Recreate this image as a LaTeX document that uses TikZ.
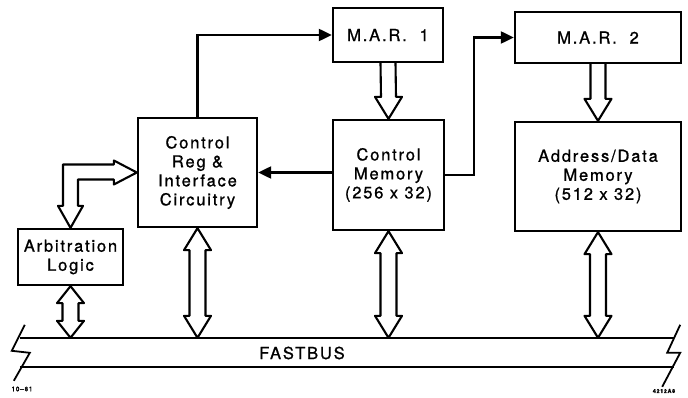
\documentclass[tikz,border=0pt]{standalone}
\usepackage{fontspec}
\setmainfont{TeX Gyre Heros}[LetterSpace=11, FakeBold=1]
\usetikzlibrary{arrows.meta,calc}

\tikzset{
  blk/.style={draw, line width=2.3pt, align=center, inner sep=0pt,
              font=\fontsize{16.5}{19}\selectfont},
  hollow/.style={draw, fill=white, line width=2.1pt, line join=round},
  wire/.style={line width=2.1pt, -{Triangle[length=13pt,width=12pt]}}
}

% single hollow arrow, tip at #2
\newcommand{\fatarrow}[2]{%
  \draw[hollow] ($(#1)+(-7.5,0)$) -- ($(#2)+(-7.5,-22)$) -- ++(-6,0) -- (#2)
    -- ++(13.5,-22) -- ++(-6,0) -- ($(#1)+(7.5,0)$);}
% double hollow arrow, tips at #1 and #2, head length #3
\newcommand{\dblarrow}[3]{%
  \draw[hollow] (#1) -- ++(13.5,#3) -- ++(-5.5,0) -- ($(#2)+(8,-#3)$) -- ++(5.5,0)
    -- (#2) -- ++(-13.5,-#3) -- ++(5.5,0) -- ($(#1)+(-8,#3)$) -- ++(-5.5,0) -- cycle;}

\begin{document}
\begin{tikzpicture}[x=1pt, y=-1pt]
  \useasboundingbox (0,0) rectangle (688,398);

  % boxes
  \node[blk, minimum width=119pt, minimum height=109pt] (ctrl) at (197.5,172.5)
       {Control\\Reg \&\\Interface\\Circuitry};
  \node[blk, minimum width=110pt, minimum height=54pt] (mar1) at (388,35) {M.A.R.~~1};
  \node[blk, minimum width=111pt, minimum height=110pt] (cmem) at (388.5,175)
       {Control\\Memory\\(256 x 32)};
  \node[blk, minimum width=166pt, minimum height=51pt] (mar2) at (598,37.5) {M.A.R.~~2};
  \node[blk, minimum width=166pt, minimum height=109pt] (admem) at (598,176.5)
       {Address/Data\\Memory\\(512 x 32)};
  \node[blk, minimum width=105pt, minimum height=56pt] (arb) at (70.5,257)
       {Arbitration\\Logic};

  % bus
  \node[minimum width=654pt, minimum height=29pt, inner sep=0pt] (bus) at (347,352.5) {};
  \node[font=\fontsize{16.5}{19}\selectfont] (buslabel) at (302,353) {FASTBUS};
  \draw[line width=2.1pt] (bus.north west) -- (bus.north east);
  \draw[line width=2.1pt] (bus.south west) -- (bus.south east);
  \draw[line width=1.8pt] ($(bus.north west)+(5,-13)$) -- ++(-13,26) -- ++(18,2) -- ++(-16,28);
  \draw[line width=1.8pt] ($(bus.north east)+(6,-13)$) -- ++(-13,28) -- ++(13,0) -- ++(-18,34);

  % plain connectors
  \draw[wire] (ctrl.north) |- (mar1.west);
  \draw[wire] (cmem.east) -- ++(29,0) |- (mar2.west);
  \draw[wire] (cmem.west |- ctrl.east) -- (ctrl.east);

  % hollow arrows
  \fatarrow{mar1.south}{cmem.north}
  \fatarrow{mar2.south}{admem.north}
  \coordinate (ctrlbus) at (ctrl.south |- bus.north);
  \coordinate (cmembus) at (cmem.south |- bus.north);
  \coordinate (admembus) at (admem.south |- bus.north);
  \coordinate (arbbus) at (arb.south |- bus.north);
  \dblarrow{ctrl.south}{ctrlbus}{22}
  \dblarrow{cmem.south}{cmembus}{22}
  \dblarrow{admem.south}{admembus}{22}
  \dblarrow{arb.south}{arbbus}{17}
  \draw[hollow] (ctrl.west) -- ++(-23,-12) -- ++(0,4) -| ($(arb.north)+(-7.5,-22)$)
    -- ++(-5,0) -- (arb.north) -- ++(12.5,-22) -- ++(-5,0) |- ($(ctrl.west)+(-23,7)$)
    -- ++(0,5) -- cycle;

  % drawing numbers
  \node[font=\fontsize{6.5}{8}\selectfont] (date) at (22,389) {10--81};
  \node[font=\bfseries\fontsize{5.5}{7}\selectfont] (fig) at (664,391) {4212A8};
\end{tikzpicture}
\end{document}
